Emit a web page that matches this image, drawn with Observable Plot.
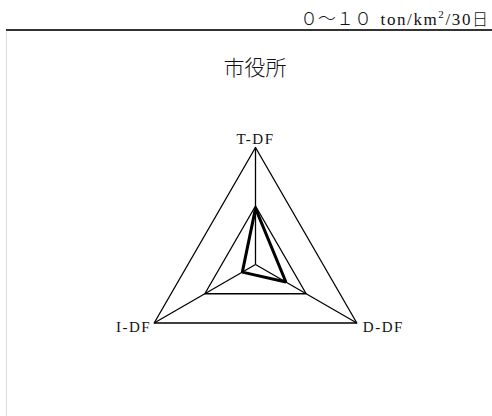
<!DOCTYPE html>
<html>
<head>
<meta charset="utf-8">
<script src="https://cdn.jsdelivr.net/npm/d3@7"></script>
<script src="https://cdn.jsdelivr.net/npm/@observablehq/plot@0.6"></script>
<style>
  html, body { margin: 0; padding: 0; background: #fff; }
  body { width: 492px; height: 416px; position: relative; overflow: hidden; }
  #rule { position: absolute; left: 6px; top: 29px; width: 486px; height: 2px; background: #333; }
  #vline { position: absolute; left: 6px; top: 31px; width: 1px; bottom: 0; background: #dcdcdc; }
  #unit { position: absolute; right: 4px; top: 6px; font-family: "Liberation Serif", "Noto Sans CJK JP", serif; font-size: 17px; color: #111; white-space: nowrap; line-height: 22px; }
  #unit .lat { font-family: "Liberation Serif", serif; letter-spacing: 1.6px; }
  #unit .fw { font-family: "Noto Sans CJK JP", sans-serif; font-weight: 300; font-size: 18px; }
  #unit sup { font-size: 11px; vertical-align: 7px; line-height: 0; }
  #title { position: absolute; left: 0; width: 510px; top: 52px; text-align: center; font: 300 21px "Noto Sans CJK JP", sans-serif; color: #111; line-height: 28px; }
  #chart { position: absolute; left: 0; top: 80px; }
</style>
</head>
<body>
<div id="unit"><span class="fw">０～１０</span>&nbsp;&nbsp;<span class="lat">ton/km<sup>2</sup>/30</span><span class="fw" style="font-size:16px">日</span></div>
<div id="rule"></div>
<div id="vline"></div>
<div id="title">市役所</div>
<div id="chart"></div>
<script>
const axesNames = ["T-DF", "D-DF", "I-DF"];
const axisAngles = [90, -30, 210];
const values = [4.8, 3.0, 1.3];
const gridLevels = [5, 10];
const maxValue = 10;

const rad = a => a * Math.PI / 180;
const pt = (i, v) => ({x: v * Math.cos(rad(axisAngles[i])), y: v * Math.sin(rad(axisAngles[i]))});

const gridPts = gridLevels.flatMap(l => axesNames.map((n, i) => ({level: l, ...pt(i, l)})));
const spokes = axesNames.map((n, i) => ({x1: 0, y1: 0, x2: pt(i, maxValue).x, y2: pt(i, maxValue).y}));
const dataPts = values.map((v, i) => pt(i, v));
const labels = axesNames.map((n, i) => ({name: n, ...pt(i, maxValue), i}));

const cx = 255, cy = 184, R = 117;
const chart = Plot.plot({
  width: 492,
  height: 336,
  margin: 0,
  x: {domain: [-maxValue, maxValue], range: [cx - R, cx + R], axis: null},
  y: {domain: [-maxValue, maxValue], range: [cy + R, cy - R], axis: null},
  style: {background: "transparent"},
  marks: [
    Plot.line(gridPts, {x: "x", y: "y", z: "level", curve: "linear-closed", stroke: "#000", strokeWidth: 1.3}),
    Plot.link(spokes, {x1: "x1", y1: "y1", x2: "x2", y2: "y2", stroke: "#000", strokeWidth: 1.3}),
    Plot.line(dataPts, {x: "x", y: "y", curve: "linear-closed", stroke: "#000", strokeWidth: 3, strokeLinejoin: "miter"}),
    Plot.text(labels.filter(d => d.i === 0), {x: "x", y: "y", text: "name", dy: -8, fontSize: 15, fontFamily: "Liberation Serif", fill: "#111", textAnchor: "middle"}),
    Plot.text(labels.filter(d => d.i === 1), {x: "x", y: "y", text: "name", dx: 6, dy: 4, fontSize: 15, fontFamily: "Liberation Serif", fill: "#111", textAnchor: "start"}),
    Plot.text(labels.filter(d => d.i === 2), {x: "x", y: "y", text: "name", dx: -3, dy: 4, fontSize: 15, fontFamily: "Liberation Serif", fill: "#111", textAnchor: "end"})
  ]
});
chart.querySelectorAll("text").forEach(t => t.setAttribute("letter-spacing", "1.5"));
document.getElementById("chart").append(chart);
</script>
</body>
</html>
